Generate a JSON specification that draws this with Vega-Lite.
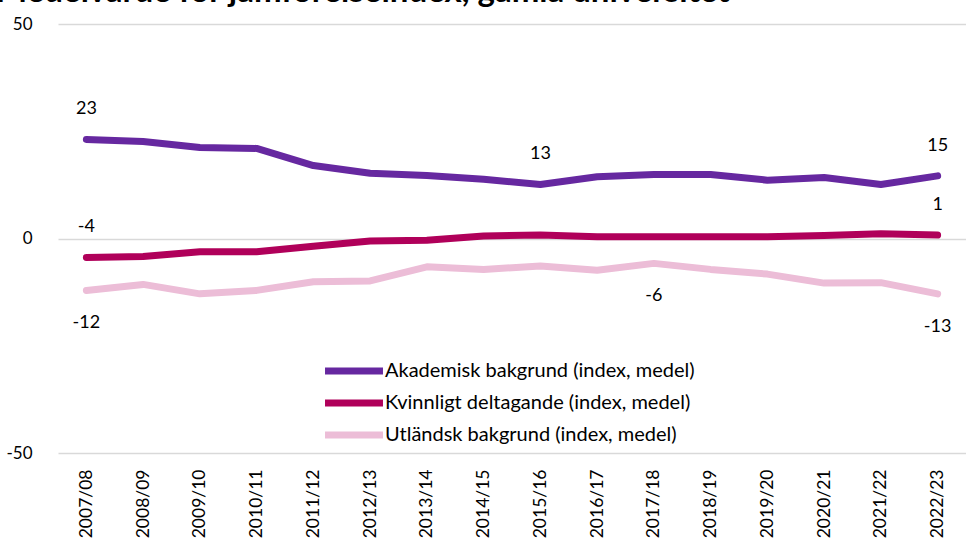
{
  "$schema": "https://vega.github.io/schema/vega-lite/v6.json",
  "width": 908,
  "height": 429,
  "autosize": {"type": "none"},
  "padding": {"left": 58, "top": 24, "right": 0, "bottom": 95},
  "background": "white",
  "title": {"text": "Medelvärde för jämförelseindex, gamla universitet", "anchor": "start", "frame": "group", "font": "Lato", "fontSize": 33, "fontWeight": "bold", "color": "#000000", "baseline": "alphabetic", "offset": 2, "dx": -62, "dy": 22},
  "config": {"view": {"stroke": null}, "font": "Lato"},
  "data": {"values": [
    {"year": "2007/08", "series": "Akademisk bakgrund (index, medel)", "value": 23.1, "label": "23"},
    {"year": "2008/09", "series": "Akademisk bakgrund (index, medel)", "value": 22.6, "label": null},
    {"year": "2009/10", "series": "Akademisk bakgrund (index, medel)", "value": 21.2, "label": null},
    {"year": "2010/11", "series": "Akademisk bakgrund (index, medel)", "value": 21.0, "label": null},
    {"year": "2011/12", "series": "Akademisk bakgrund (index, medel)", "value": 17.0, "label": null},
    {"year": "2012/13", "series": "Akademisk bakgrund (index, medel)", "value": 15.2, "label": null},
    {"year": "2013/14", "series": "Akademisk bakgrund (index, medel)", "value": 14.7, "label": null},
    {"year": "2014/15", "series": "Akademisk bakgrund (index, medel)", "value": 13.8, "label": null},
    {"year": "2015/16", "series": "Akademisk bakgrund (index, medel)", "value": 12.6, "label": "13"},
    {"year": "2016/17", "series": "Akademisk bakgrund (index, medel)", "value": 14.4, "label": null},
    {"year": "2017/18", "series": "Akademisk bakgrund (index, medel)", "value": 14.9, "label": null},
    {"year": "2018/19", "series": "Akademisk bakgrund (index, medel)", "value": 14.9, "label": null},
    {"year": "2019/20", "series": "Akademisk bakgrund (index, medel)", "value": 13.6, "label": null},
    {"year": "2020/21", "series": "Akademisk bakgrund (index, medel)", "value": 14.2, "label": null},
    {"year": "2021/22", "series": "Akademisk bakgrund (index, medel)", "value": 12.6, "label": null},
    {"year": "2022/23", "series": "Akademisk bakgrund (index, medel)", "value": 14.6, "label": "15"},
    {"year": "2007/08", "series": "Kvinnligt deltagande (index, medel)", "value": -4.4, "label": "-4"},
    {"year": "2008/09", "series": "Kvinnligt deltagande (index, medel)", "value": -4.2, "label": null},
    {"year": "2009/10", "series": "Kvinnligt deltagande (index, medel)", "value": -3.1, "label": null},
    {"year": "2010/11", "series": "Kvinnligt deltagande (index, medel)", "value": -3.1, "label": null},
    {"year": "2011/12", "series": "Kvinnligt deltagande (index, medel)", "value": -1.8, "label": null},
    {"year": "2012/13", "series": "Kvinnligt deltagande (index, medel)", "value": -0.6, "label": null},
    {"year": "2013/14", "series": "Kvinnligt deltagande (index, medel)", "value": -0.4, "label": null},
    {"year": "2014/15", "series": "Kvinnligt deltagande (index, medel)", "value": 0.6, "label": null},
    {"year": "2015/16", "series": "Kvinnligt deltagande (index, medel)", "value": 0.8, "label": null},
    {"year": "2016/17", "series": "Kvinnligt deltagande (index, medel)", "value": 0.4, "label": null},
    {"year": "2017/18", "series": "Kvinnligt deltagande (index, medel)", "value": 0.4, "label": null},
    {"year": "2018/19", "series": "Kvinnligt deltagande (index, medel)", "value": 0.4, "label": null},
    {"year": "2019/20", "series": "Kvinnligt deltagande (index, medel)", "value": 0.4, "label": null},
    {"year": "2020/21", "series": "Kvinnligt deltagande (index, medel)", "value": 0.7, "label": null},
    {"year": "2021/22", "series": "Kvinnligt deltagande (index, medel)", "value": 1.1, "label": null},
    {"year": "2022/23", "series": "Kvinnligt deltagande (index, medel)", "value": 0.8, "label": "1"},
    {"year": "2007/08", "series": "Utländsk bakgrund (index, medel)", "value": -12.1, "label": "-12"},
    {"year": "2008/09", "series": "Utländsk bakgrund (index, medel)", "value": -10.7, "label": null},
    {"year": "2009/10", "series": "Utländsk bakgrund (index, medel)", "value": -12.9, "label": null},
    {"year": "2010/11", "series": "Utländsk bakgrund (index, medel)", "value": -12.1, "label": null},
    {"year": "2011/12", "series": "Utländsk bakgrund (index, medel)", "value": -10.1, "label": null},
    {"year": "2012/13", "series": "Utländsk bakgrund (index, medel)", "value": -9.9, "label": null},
    {"year": "2013/14", "series": "Utländsk bakgrund (index, medel)", "value": -6.6, "label": null},
    {"year": "2014/15", "series": "Utländsk bakgrund (index, medel)", "value": -7.2, "label": null},
    {"year": "2015/16", "series": "Utländsk bakgrund (index, medel)", "value": -6.4, "label": null},
    {"year": "2016/17", "series": "Utländsk bakgrund (index, medel)", "value": -7.4, "label": null},
    {"year": "2017/18", "series": "Utländsk bakgrund (index, medel)", "value": -5.8, "label": "-6"},
    {"year": "2018/19", "series": "Utländsk bakgrund (index, medel)", "value": -7.2, "label": null},
    {"year": "2019/20", "series": "Utländsk bakgrund (index, medel)", "value": -8.3, "label": null},
    {"year": "2020/21", "series": "Utländsk bakgrund (index, medel)", "value": -10.4, "label": null},
    {"year": "2021/22", "series": "Utländsk bakgrund (index, medel)", "value": -10.3, "label": null},
    {"year": "2022/23", "series": "Utländsk bakgrund (index, medel)", "value": -12.9, "label": "-13"}
  ]},
  "encoding": {
    "x": {"field": "year", "type": "ordinal", "sort": null, "scale": {"type": "point", "padding": 0.5},
      "axis": {"title": null, "labelAngle": -90, "labelFontSize": 17.5, "labelColor": "#000000", "labelPadding": 16, "ticks": false, "domain": false, "grid": false}},
    "y": {"field": "value", "type": "quantitative", "scale": {"domain": [-50, 50], "nice": false, "zero": false},
      "axis": {"title": null, "values": [-50, 0, 50], "format": "d", "grid": true, "gridColor": "#d9d9d9", "gridWidth": 1.5, "domain": false, "ticks": false, "labelPadding": 26, "labelFontSize": 17, "labelColor": "#000000", "labelExpr": "replace(datum.label, '−', '-')"}}
  },
  "layer": [
    {
      "mark": {"type": "line", "strokeWidth": 7, "strokeCap": "round", "strokeJoin": "round"},
      "encoding": {
        "color": {"field": "series", "type": "nominal",
          "scale": {"domain": ["Akademisk bakgrund (index, medel)", "Kvinnligt deltagande (index, medel)", "Utländsk bakgrund (index, medel)"], "range": ["#6628a0", "#b0005a", "#ecbdd7"]},
          "legend": {"title": null, "orient": "none", "legendX": 285, "legendY": 336, "symbolType": "M-4,0H4", "symbolSize": 210, "symbolStrokeWidth": 7, "labelFontSize": 20, "labelColor": "#000000", "labelOffset": 20, "labelLimit": 500, "rowPadding": 4}}
      }
    },
    {
      "transform": [{"filter": "datum.label != null && datum.series != 'Utländsk bakgrund (index, medel)'"}],
      "mark": {"type": "text", "dy": -30, "fontSize": 18, "color": "#000000"},
      "encoding": {"text": {"field": "label"}}
    },
    {
      "transform": [{"filter": "datum.label != null && datum.series == 'Utländsk bakgrund (index, medel)'"}],
      "mark": {"type": "text", "dy": 33, "fontSize": 18, "color": "#000000"},
      "encoding": {"text": {"field": "label"}}
    }
  ]
}
